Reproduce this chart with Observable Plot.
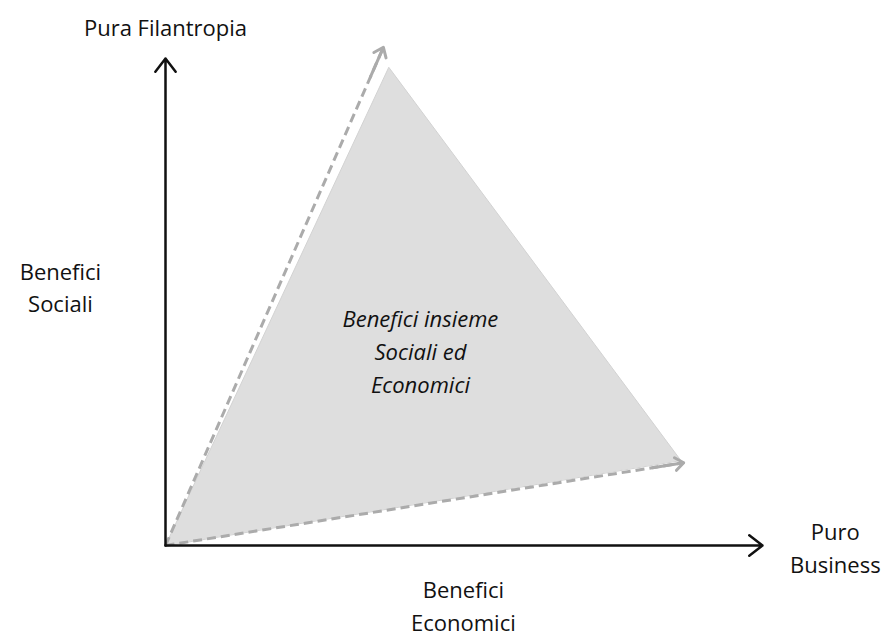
<!DOCTYPE html>
<html><head><meta charset="utf-8">
<script src="https://cdn.jsdelivr.net/npm/d3@7"></script>
<script src="https://cdn.jsdelivr.net/npm/@observablehq/plot@0.6"></script>
<style>body{margin:0;background:#fff}</style>
</head><body><div id="chart"></div>
<script>
// Conceptual diagram: axis extents (data units 0..100)
const axisNames = ["Benefici Economici", "Benefici Sociali"];
const axisEndX = [100, 0];
const axisEndY = [0, 100];
// Grey triangle vertices (origin, "Pura Filantropia" apex, "Puro Business" apex)
const vertexX = [0, 37.4, 86.3];
const vertexY = [0, 98.2, 17.5];
// Dashed arrows from origin to the apexes
const dashedTipX = [36.5, 86.8];
const dashedTipY = [102.3, 17.0];
// Labels
const labelTexts = ["Pura Filantropia", "Benefici\nSociali", "Puro\nBusiness", "Benefici\nEconomici"];
const labelX = [0, -17.6, 112.2, 49.9];
const labelY = [106.8, 53.4, 0.0, -12.0];
const centerText = ["Benefici insieme\nSociali ed\nEconomici"];
const centerX = [42.7];
const centerY = [40.3];

const axes = axisNames.map((n, i) => ({name: n, x1: 0, y1: 0, x2: axisEndX[i], y2: axisEndY[i]}));
const triangle = vertexX.map((x, i) => ({x, y: vertexY[i]}));
const dashed = dashedTipX.map((x, i) => ({x1: 0, y1: 0, x2: x, y2: dashedTipY[i]}));
const heads = dashed.map(d => ({x1: d.x2 - 0.06 * d.x2, y1: d.y2 - 0.06 * d.y2, x2: d.x2, y2: d.y2}));
const labels = labelTexts.map((t, i) => ({t, x: labelX[i], y: labelY[i]}));
const center = centerText.map((t, i) => ({t, x: centerX[i], y: centerY[i]}));

const chart = Plot.plot({
  width: 887, height: 637,
  margin: 0,
  x: {domain: [0, 100], range: [165, 762], axis: null},
  y: {domain: [0, 100], range: [545, 58], axis: null},
  style: {fontFamily: "'Open Sans', Lato, sans-serif", background: "#fff", overflow: "visible"},
  marks: [
    Plot.line(triangle, {x: "x", y: "y", fill: "#dedede", stroke: "#d2d2d2", strokeWidth: 1, curve: "linear-closed"}),
    Plot.link(dashed, {x1: "x1", y1: "y1", x2: "x2", y2: "y2", stroke: "#ababab", strokeWidth: 3, strokeDasharray: "9,5"}),
    Plot.arrow(heads, {x1: "x1", y1: "y1", x2: "x2", y2: "y2", stroke: "#ababab", strokeWidth: 3, headLength: 12, headAngle: 75}),
    Plot.arrow(axes, {x1: "x1", y1: "y1", x2: "x2", y2: "y2", stroke: "#111", strokeWidth: 2.5, headLength: 10, headAngle: 75}),
    Plot.text(labels, {x: "x", y: "y", text: "t", fontSize: 22, lineHeight: 1.5, fill: "#111", textAnchor: "middle"}),
    Plot.text(center, {x: "x", y: "y", text: "t", fontSize: 22, lineHeight: 1.5, fill: "#111", fontStyle: "italic", textAnchor: "middle"})
  ]
});
document.getElementById("chart").appendChild(chart);
</script>
</body></html>
